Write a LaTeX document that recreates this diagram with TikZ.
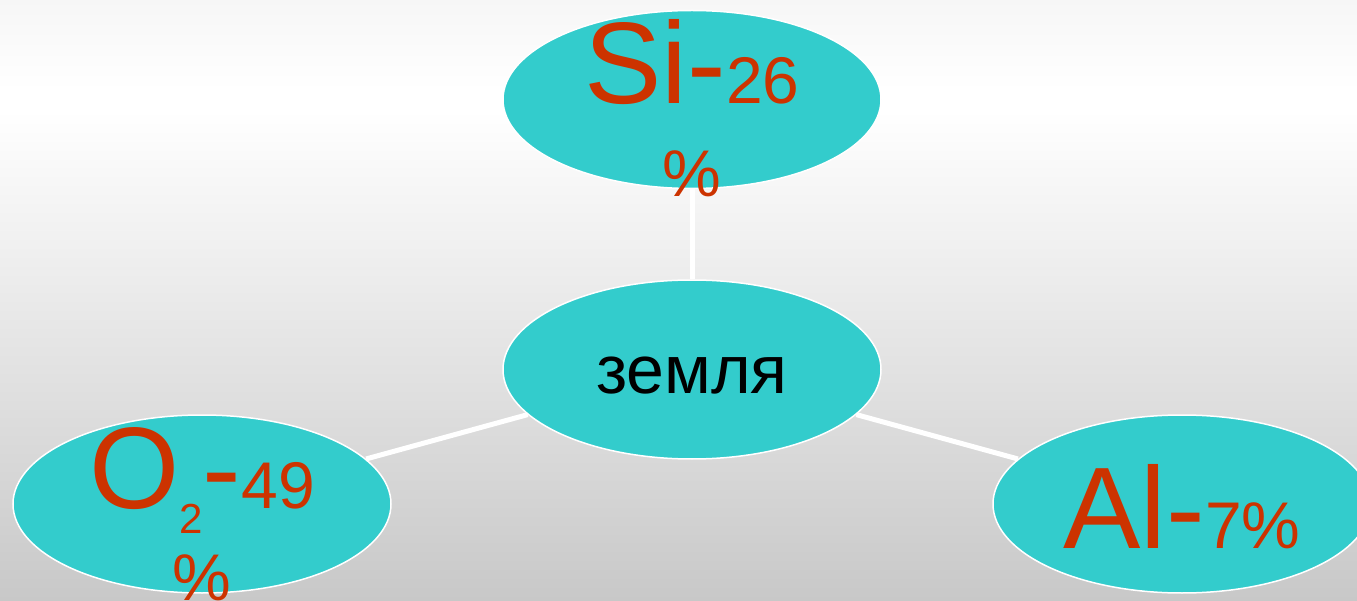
\documentclass[tikz,border=0pt]{standalone}
\usepackage{fontspec}
\setmainfont{Liberation Sans}
\usetikzlibrary{shapes.geometric}
\definecolor{bubble}{HTML}{33CCCC}
\definecolor{txtred}{HTML}{CC3300}
\definecolor{bgbot}{HTML}{C8C8C8}
\definecolor{bgtop}{HTML}{F6F6F6}
\newcommand{\bigsz}{\fontsize{116}{116}\selectfont}
\newcommand{\midsz}{\fontsize{66}{66}\selectfont}
\newcommand{\subsz}{\fontsize{42}{42}\selectfont}
\begin{document}
\begin{tikzpicture}[x=1pt,y=-1pt,
  bubblenode/.style={ellipse, fill=bubble, draw=white, line width=1.5pt,
    minimum width=378pt, minimum height=178pt, inner sep=0pt},
  conn/.style={draw=white, line width=5pt},
  redtext/.style={text=txtred, anchor=base, inner sep=0pt},
  blacktext/.style={text=black, anchor=base, inner sep=0pt}]
\useasboundingbox (0,0) rectangle (1357,601);
\clip (0,0) rectangle (1357,601);
% background gradient
\shade[top color=bgtop, bottom color=white] (0,0) rectangle (1357,90);
\fill[white] (0,89) rectangle (1357,111);
\shade[top color=white, bottom color=bgbot] (0,110) rectangle (1357,601);
% ellipses
\node[bubblenode] (si) at (692,99.5) {};
\node[bubblenode, minimum height=179pt] (z) at (692,369.5) {};
\node[bubblenode] (o) at (202,504) {};
\node[bubblenode] (al) at (1182,504) {};
% connectors
\draw[conn] (si) -- (z);
\draw[conn] (z) -- (o);
\draw[conn] (z) -- (al);
% texts
\node[blacktext] (zt) at (692,393) {\fontsize{68}{68}\selectfont земля};
\node[redtext] (sit) at (692,104) {\bigsz Si-\midsz 26};
\node[redtext] (sip) at (692,197) {\midsz \%};
\node[redtext] (ot) at (202,508) {\bigsz O\raisebox{-25pt}{\subsz 2}-\midsz 49};
\node[redtext] (op) at (202,600) {\midsz \%};
\node[redtext] (alt) at (1182,548) {\bigsz Al-\midsz 7\%};
\end{tikzpicture}
\end{document}
